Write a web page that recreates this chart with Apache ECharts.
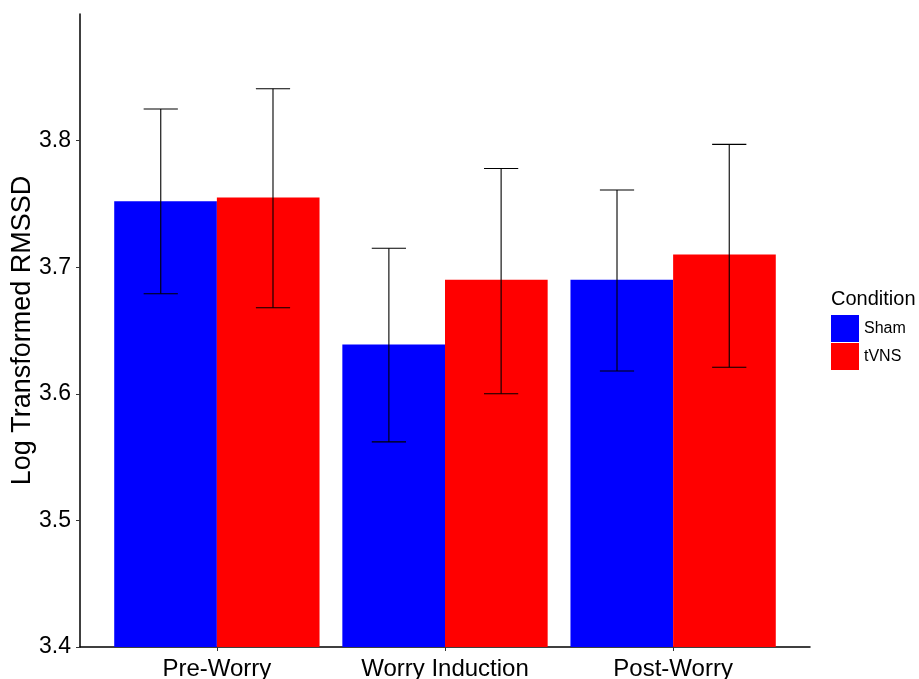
<!DOCTYPE html>
<html>
<head>
<meta charset="utf-8">
<script src="https://cdn.jsdelivr.net/npm/echarts@6/dist/echarts.min.js"></script>
<style>html,body{margin:0;padding:0;background:#fff;}#c{width:919px;height:679px;}</style>
</head>
<body>
<div id="c"></div>
<script>
const categories = ['Pre-Worry', 'Worry Induction', 'Post-Worry'];
const shamMean = [3.752, 3.639, 3.690];
const tvnsMean = [3.755, 3.690, 3.710];
const shamLow  = [3.679, 3.562, 3.618];
const shamHigh = [3.825, 3.715, 3.761];
const tvnsLow  = [3.668, 3.600, 3.621];
const tvnsHigh = [3.841, 3.778, 3.797];
const yTicks = [3.4, 3.5, 3.6, 3.7, 3.8];
const yMin = 3.4, yMax = 3.9;

const FONT = 'Liberation Sans, Arial, sans-serif';

function barRenderer(s, e) {
  return function (params, api) {
    const c = api.value(0), v = api.value(1);
    const p0 = api.coord([c + s, v]);
    const p1 = api.coord([c + e, yMin]);
    return {
      type: 'rect',
      shape: { x: p0[0], y: p0[1], width: p1[0] - p0[0], height: p1[1] - p0[1] },
      style: { fill: api.visual('color') }
    };
  };
}
function errRenderer(off, cap) {
  return function (params, api) {
    const c = api.value(0) + off, lo = api.value(1), hi = api.value(2);
    const t = api.coord([c, hi]), b = api.coord([c, lo]);
    const tl = api.coord([c - cap, hi]), tr = api.coord([c + cap, hi]);
    const bl = api.coord([c - cap, lo]), br = api.coord([c + cap, lo]);
    const st = { stroke: '#000', lineWidth: 1.1 };
    return {
      type: 'group',
      children: [
        { type: 'line', shape: { x1: t[0], y1: t[1], x2: b[0], y2: b[1] }, style: st },
        { type: 'line', shape: { x1: tl[0], y1: tl[1], x2: tr[0], y2: tr[1] }, style: st },
        { type: 'line', shape: { x1: bl[0], y1: bl[1], x2: br[0], y2: br[1] }, style: st }
      ]
    };
  };
}

const shamData = shamMean.map((v, i) => [i, v]);
const tvnsData = tvnsMean.map((v, i) => [i, v]);
const shamErr = shamLow.map((v, i) => [i, v, shamHigh[i]]);
const tvnsErr = tvnsLow.map((v, i) => [i, v, tvnsHigh[i]]);

const chart = echarts.init(document.getElementById('c'), null, { renderer: 'canvas' });
chart.setOption({
  backgroundColor: '#fff',
  animation: false,
  textStyle: { fontFamily: FONT },
  title: {
    text: 'Condition', left: 831, top: 289, padding: 0,
    textStyle: { fontFamily: FONT, fontSize: 20, fontWeight: 'normal', color: '#000' }
  },
  legend: {
    data: ['Sham', 'tVNS'],
    orient: 'vertical', left: 831, top: 315, padding: 0,
    itemWidth: 28, itemHeight: 27, itemGap: 1, icon: 'rect',
    selectedMode: false,
    textStyle: { fontFamily: FONT, fontSize: 16, color: '#000' }
  },
  grid: { left: 80, right: 109, top: 14, bottom: 32, containLabel: false, outerBoundsMode: 'none' },
  xAxis: {
    type: 'value', min: -0.6, max: 2.6,
    splitLine: { show: false },
    axisLine: { show: true, onZero: false, lineStyle: { color: '#000', width: 1.5 } },
    axisTick: { show: true, customValues: [0, 1, 2], length: 4, lineStyle: { color: '#333', width: 1 } },
    axisLabel: {
      customValues: [0, 1, 2], margin: 10,
      formatter: v => categories[Math.round(v)] || '',
      fontFamily: FONT, fontSize: 24, color: '#000'
    }
  },
  yAxis: {
    type: 'value', min: yMin, max: yMax, interval: 0.1,
    name: 'Log Transformed RMSSD', nameLocation: 'middle', nameGap: 44,
    nameMoveOverlap: false,
    nameTextStyle: { fontFamily: FONT, fontSize: 27, color: '#000' },
    splitLine: { show: false },
    axisLine: { show: true, onZero: false, lineStyle: { color: '#000', width: 1.5 } },
    axisTick: { show: true, customValues: yTicks, length: 4, lineStyle: { color: '#333', width: 1 } },
    axisLabel: {
      customValues: yTicks, margin: 9,
      formatter: v => v.toFixed(1),
      fontFamily: FONT, fontSize: 23, color: '#000'
    }
  },
  series: [
    { name: 'Sham', type: 'custom', itemStyle: { color: '#0000FF' }, data: shamData,
      encode: { x: 0, y: 1 }, renderItem: barRenderer(-0.45, 0), z: 2 },
    { name: 'tVNS', type: 'custom', itemStyle: { color: '#FF0000' }, data: tvnsData,
      encode: { x: 0, y: 1 }, renderItem: barRenderer(0, 0.45), z: 2 },
    { name: 'Sham err', type: 'custom', data: shamErr, encode: { x: 0, y: [1, 2] },
      renderItem: errRenderer(-0.246, 0.075), z: 5 },
    { name: 'tVNS err', type: 'custom', data: tvnsErr, encode: { x: 0, y: [1, 2] },
      renderItem: errRenderer(0.246, 0.075), z: 5 }
  ]
});
</script>
</body>
</html>
